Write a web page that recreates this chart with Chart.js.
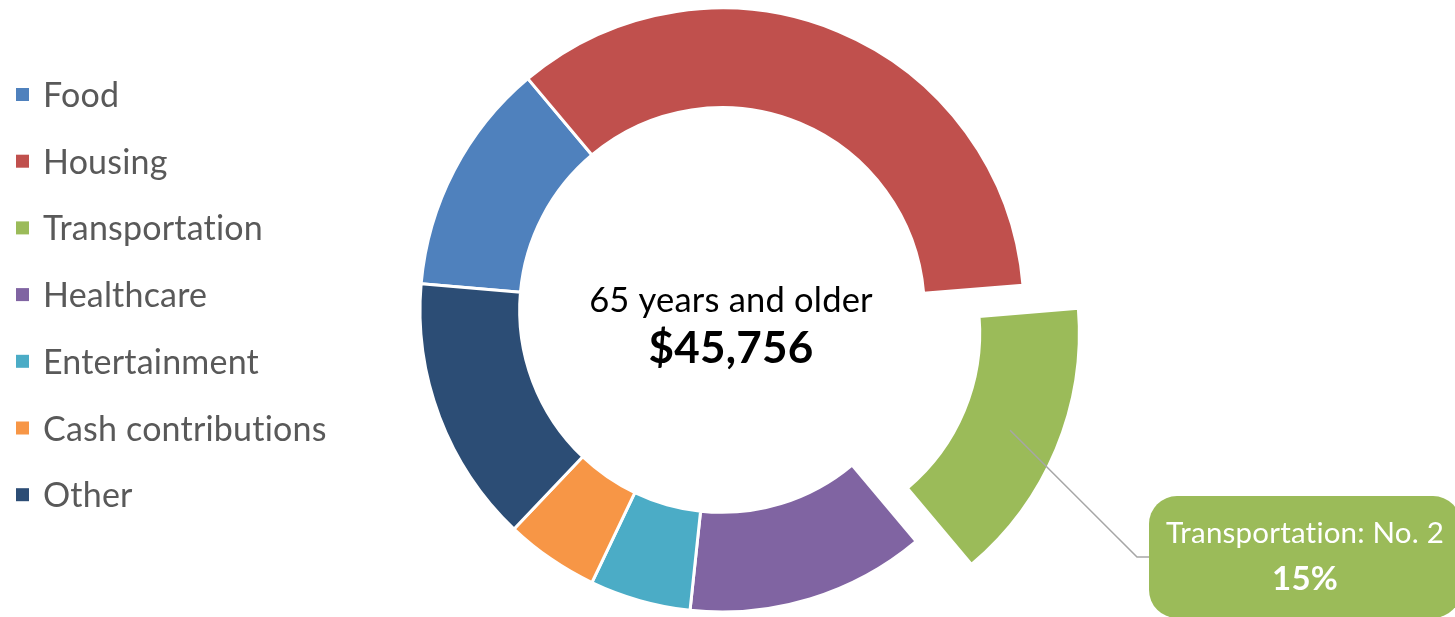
<!DOCTYPE html>
<html>
<head>
<meta charset="utf-8">
<script src="https://cdn.jsdelivr.net/npm/chart.js@4.4.1/dist/chart.umd.min.js"></script>
<style>
  html, body { margin: 0; padding: 0; background: #ffffff; }
  #wrap { position: relative; width: 1455px; height: 617px; overflow: hidden; }
  canvas { display: block; font-variant-ligatures: none; }
</style>
</head>
<body>
<div id="wrap"><canvas id="chart" width="1455" height="617"></canvas></div>
<script>
// ---- data ----
const categories = ['Food', 'Housing', 'Transportation', 'Healthcare', 'Entertainment', 'Cash contributions', 'Other'];
const shares = [12.5, 34.8, 15.2, 12.8, 5.4, 5.0, 14.3];
const sliceColors = ['#4F81BD', '#C0504D', '#9BBB59', '#8064A2', '#4BACC6', '#F79646', '#2C4D75'];
const centerTitle = '65 years and older';
const centerValue = '$45,756';
const highlightIndex = 2;

// ---- styles ----
const FONT = 'Lato, "Open Sans", "DejaVu Sans", sans-serif';
const EXPLODE = 60;

function noLigatures(ctx) {
  if ('letterSpacing' in ctx) ctx.letterSpacing = '0.2px';
}

const explodePlugin = {
  id: 'explodeSlice',
  beforeDatasetsDraw(chart) {
    const arc = chart.getDatasetMeta(0).data[highlightIndex];
    if (!arc || arc.$exploded) return;
    const baseDraw = arc.draw;
    arc.draw = function (ctx, area) {
      const mid = (this.startAngle + this.endAngle) / 2;
      ctx.save();
      ctx.translate(Math.cos(mid) * EXPLODE, Math.sin(mid) * EXPLODE);
      baseDraw.call(this, ctx, area);
      ctx.restore();
    };
    arc.$exploded = true;
  }
};

const calloutPlugin = {
  id: 'callout',
  afterDatasetsDraw(chart) {
    const ctx = chart.ctx;
    const arc = chart.getDatasetMeta(0).data[highlightIndex];
    const mid = (arc.startAngle + arc.endAngle) / 2;
    const c = arc.getCenterPoint();
    const ax = c.x + Math.cos(mid) * EXPLODE;
    const ay = c.y + Math.sin(mid) * EXPLODE;
    const bx = 1149, by = 496, bw = 312, bh = 122, br = 28;
    const ly = by + bh / 2;
    ctx.save();
    ctx.strokeStyle = '#A6A6A6';
    ctx.lineWidth = 1.5;
    ctx.beginPath();
    ctx.moveTo(ax, ay);
    ctx.lineTo(bx - 12, ly);
    ctx.lineTo(bx, ly);
    ctx.stroke();
    ctx.fillStyle = sliceColors[highlightIndex];
    ctx.beginPath();
    ctx.roundRect(bx, by, bw, bh, br);
    ctx.fill();
    const total = shares.reduce((a, b) => a + b, 0);
    const pct = Math.round(shares[highlightIndex] / total * 100);
    const rank = shares.filter(v => v > shares[highlightIndex]).length + 1;
    ctx.fillStyle = '#ffffff';
    ctx.textAlign = 'center';
    ctx.textBaseline = 'alphabetic';
    noLigatures(ctx);
    ctx.font = `29.5px ${FONT}`;
    ctx.fillText(`${categories[highlightIndex]}: No. ${rank}`, 1305, 543);
    ctx.font = `bold 33px ${FONT}`;
    ctx.fillText(`${pct}%`, 1305, 590);
    ctx.restore();
  }
};

const centerPlugin = {
  id: 'centerText',
  afterDatasetsDraw(chart) {
    const ctx = chart.ctx;
    ctx.save();
    ctx.fillStyle = '#000000';
    ctx.textAlign = 'center';
    ctx.textBaseline = 'alphabetic';
    noLigatures(ctx);
    ctx.font = `34.5px ${FONT}`;
    ctx.fillText(centerTitle, 731, 312);
    ctx.font = `bold 44px ${FONT}`;
    ctx.fillText(centerValue, 731, 363);
    ctx.restore();
  }
};

const legendPlugin = {
  id: 'sideLegend',
  afterDraw(chart) {
    const ctx = chart.ctx;
    ctx.save();
    noLigatures(ctx);
    ctx.font = `34px ${FONT}`;
    ctx.textAlign = 'left';
    ctx.textBaseline = 'alphabetic';
    categories.forEach((name, i) => {
      const y = 95 + i * 66.7;
      ctx.fillStyle = sliceColors[i];
      ctx.fillRect(16, y - 7, 13, 13);
      ctx.fillStyle = '#595959';
      ctx.fillText(name, 43, y + 12);
    });
    ctx.restore();
  }
};

new Chart(document.getElementById('chart'), {
  type: 'doughnut',
  data: {
    labels: categories,
    datasets: [{
      data: shares,
      backgroundColor: sliceColors,
      borderColor: '#ffffff',
      borderWidth: 3
    }]
  },
  options: {
    responsive: false,
    animation: false,
    events: [],
    rotation: 275,
    radius: 302,
    cutout: '67%',
    layout: { padding: { left: 0, right: 11, top: 3, bottom: 0 } },
    plugins: {
      legend: { display: false },
      tooltip: { enabled: false }
    }
  },
  plugins: [explodePlugin, centerPlugin, calloutPlugin, legendPlugin]
});
</script>
</body>
</html>
